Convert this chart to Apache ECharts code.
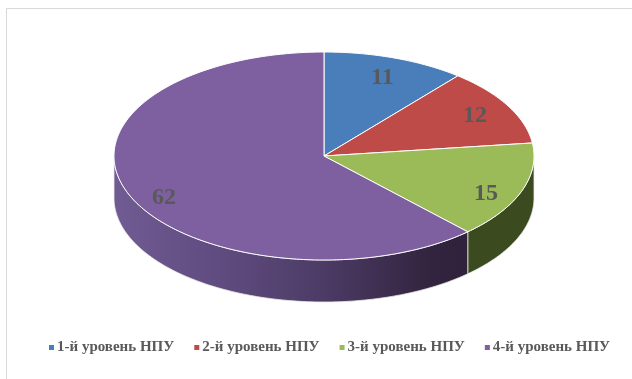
<!DOCTYPE html>
<html>
<head>
<meta charset="utf-8">
<script src="https://cdn.jsdelivr.net/npm/echarts@6/dist/echarts.min.js"></script>
<style>
  html, body { margin: 0; padding: 0; background: #fff; }
  #chart { width: 632px; height: 379px; }
</style>
</head>
<body>
<div id="chart"></div>
<script>
// Shares of dams by hazard level (уровень НПУ), drawn as a tilted pie
const categories = ['1-й уровень НПУ', '2-й уровень НПУ', '3-й уровень НПУ', '4-й уровень НПУ'];
const values = [11, 12, 15, 62];
const topColors = ['#4a7ebb', '#be4b48', '#9bbb59', '#7e60a0'];
const sideColors = ['#2c4a70', '#72302e', '#3c4a20', null];

const total = values.reduce((a, b) => a + b, 0);

// Tilted disc geometry, as fractions of the chart size
const geo = { cx: 324 / 632, cy: 156 / 379, rx: 210 / 632, ry: 104 / 379, depth: 42 / 379 };

function buildRender(idx) {
  return function (params, api) {
    const W = api.getWidth(), H = api.getHeight();
    const cx = geo.cx * W, cy = geo.cy * H, rx = geo.rx * W, ry = geo.ry * H, d = geo.depth * H;
    let before = 0;
    for (let k = 0; k < idx; k++) before += values[k];
    const v = api.value(0);
    const a0 = before / total * Math.PI * 2;
    const a1 = (before + v) / total * Math.PI * 2;
    const pt = (t, dy) => [cx + rx * Math.sin(t), cy - ry * Math.cos(t) + (dy || 0)];
    const arc = (s, e, dy) => {
      const pts = [];
      const n = Math.max(2, Math.ceil((e - s) / (Math.PI / 180)));
      for (let j = 0; j <= n; j++) pts.push(pt(s + (e - s) * j / n, dy));
      return pts;
    };
    const children = [];

    // visible rim: the part of the slice arc on the front half of the disc
    const s = Math.max(a0, Math.PI / 2), e = Math.min(a1, Math.PI * 1.5);
    if (e > s) {
      const upper = arc(s, e, 0);
      const lower = arc(s, e, d).reverse();
      let fill = sideColors[idx];
      if (!fill) {
        fill = new echarts.graphic.LinearGradient(cx - rx, 0, cx + rx * 0.72, 0, [
          { offset: 0, color: '#705b93' },
          { offset: 0.3, color: '#604b7f' },
          { offset: 0.6, color: '#4a3a63' },
          { offset: 0.88, color: '#32233e' },
          { offset: 1, color: '#30223b' }
        ], true);
      }
      children.push({
        type: 'polygon', z2: 1,
        shape: { points: upper.concat(lower) },
        style: { fill: fill, stroke: '#e8e8e8', lineWidth: 0.8 }
      });
    }

    // top face of the slice
    children.push({
      type: 'polygon', z2: 10,
      shape: { points: [[cx, cy]].concat(arc(a0, a1, 0)) },
      style: { fill: topColors[idx], stroke: '#ffffff', lineWidth: 1 }
    });

    // value label
    const m = (a0 + a1) / 2;
    const c = Math.cos(m);
    const lx = cx + 0.82 * rx * Math.sin(m);
    const ly = cy - 0.8 * ry * c + (c < 0 ? -c * d * 0.7 : 0);
    children.push({
      type: 'text', z2: 20,
      style: {
        text: String(v), x: lx, y: ly,
        fill: '#595959', font: 'bold 24px "Liberation Serif"',
        align: 'center', verticalAlign: 'middle'
      }
    });
    return { type: 'group', children: children };
  };
}

const series = categories.map((name, i) => ({
  type: 'custom',
  name: name,
  coordinateSystem: 'none',
  color: topColors[i],
  silent: true,
  animation: false,
  data: [[values[i]]],
  renderItem: buildRender(i)
}));

const chart = echarts.init(document.getElementById('chart'), null, { renderer: 'canvas' });
chart.setOption({
  backgroundColor: '#ffffff',
  animation: false,
  graphic: [{
    type: 'rect', silent: true,
    shape: { x: 6.5, y: 8.5, width: 700, height: 400 },
    style: { fill: 'none', stroke: '#d9d9d9', lineWidth: 1 }
  }],
  legend: {
    data: categories,
    left: 49,
    top: 340,
    padding: 0,
    icon: 'rect',
    itemWidth: 5,
    itemHeight: 5,
    itemGap: 20,
    selectedMode: false,
    textStyle: {
      color: '#595959',
      fontFamily: 'Liberation Serif',
      fontWeight: 'bold',
      fontSize: 15,
      padding: [0, 0, 0, -2]
    }
  },
  series: series
});
</script>
</body>
</html>
